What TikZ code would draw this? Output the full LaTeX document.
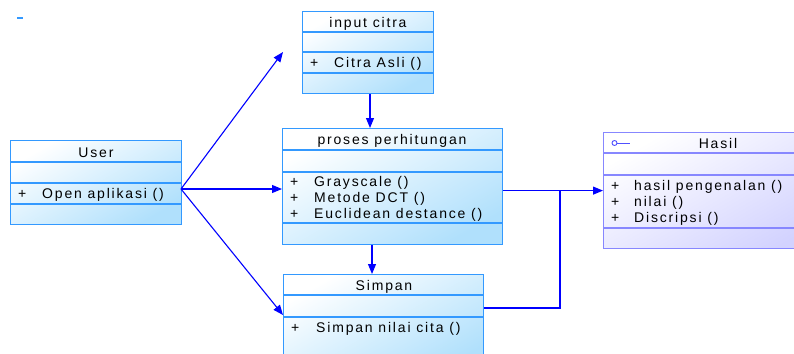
\documentclass[tikz,border=0pt]{standalone}
\usepackage{fontspec}
\setmainfont{Liberation Sans}[LetterSpace=13]
\usetikzlibrary{arrows.meta,calc}
\definecolor{bordblue}{RGB}{51,153,255}
\definecolor{fillblue}{RGB}{176,224,252}
\definecolor{bordlav}{RGB}{135,135,255}
\definecolor{filllav}{RGB}{210,210,255}
\definecolor{arrblue}{RGB}{0,0,255}
\definecolor{symlav}{RGB}{80,80,255}
\begin{document}
\begin{tikzpicture}[x=1pt,y=-1pt,
  every node/.style={font=\fontsize{14}{16}\selectfont, inner sep=0pt, text=black},
  ttl/.style={anchor=mid, yshift=-2.5pt},
  lbl/.style={anchor=mid west, yshift=-2.5pt},
  cls/.style={draw=bordblue, line width=1.2pt, top color=white, bottom color=fillblue, shading angle=30, anchor=north west},
  clsl/.style={draw=bordlav, line width=1.2pt, top color=white, bottom color=filllav, shading angle=30, anchor=north west},
  divb/.style={draw=bordblue, line width=1.2pt},
  divl/.style={draw=bordlav, line width=1.2pt},
  arr/.style={draw=arrblue, line width=1.1pt, -{Triangle[length=10pt,width=8pt]}},
  conn/.style={draw=arrblue, line width=1.1pt}]
\useasboundingbox (0,0) rectangle (794,353);
\clip (0,0) rectangle (794,353);

% small mark
\draw[bordblue, line width=1.5pt] (17,18) -- (23,18);

% User
\node[cls, minimum width=171pt, minimum height=84pt] (user) at (10,140) {};
\draw[divb] ($(user.north west)+(0,22)$) -- ($(user.north east)+(0,22)$);
\draw[divb] ($(user.north west)+(0,43)$) -- ($(user.north east)+(0,43)$);
\draw[divb] ($(user.north west)+(0,64)$) -- ($(user.north east)+(0,64)$);
\node[ttl] (userT) at (96,152) {User};
\node[lbl] (userP) at (18,193) {+};
\node[lbl] (userO) at (42,193) {Open aplikasi ()};

% input citra
\node[cls, minimum width=131pt, minimum height=82pt] (input) at (302,11) {};
\draw[divb] ($(input.north west)+(0,21)$) -- ($(input.north east)+(0,21)$);
\draw[divb] ($(input.north west)+(0,41)$) -- ($(input.north east)+(0,41)$);
\draw[divb] ($(input.north west)+(0,62)$) -- ($(input.north east)+(0,62)$);
\node[ttl] (inputT) at (368,22) {input citra};
\node[lbl] (inputP) at (310,62) {+};
\node[lbl] (inputO) at (334,62) {Citra Asli ()};

% proses perhitungan
\node[cls, minimum width=220pt, minimum height=116pt] (proses) at (282,128) {};
\draw[divb] ($(proses.north west)+(0,22)$) -- ($(proses.north east)+(0,22)$);
\draw[divb] ($(proses.north west)+(0,44)$) -- ($(proses.north east)+(0,44)$);
\draw[divb] ($(proses.north west)+(0,95)$) -- ($(proses.north east)+(0,95)$);
\node[ttl] (prosesT) at (392,139) {proses perhitungan};
\node[lbl] (prosesP1) at (290,181) {+};
\node[lbl] (prosesP2) at (290,197) {+};
\node[lbl] (prosesP3) at (290,213) {+};
\node[lbl] (prosesO1) at (314,181) {Grayscale ()};
\node[lbl] (prosesO2) at (314,197) {Metode DCT ()};
\node[lbl] (prosesO3) at (314,213) {Euclidean destance ()};

% Simpan
\node[cls, minimum width=200pt, minimum height=100pt] (simpan) at (283,274) {};
\draw[divb] ($(simpan.north west)+(0,21)$) -- ($(simpan.north east)+(0,21)$);
\draw[divb] ($(simpan.north west)+(0,43)$) -- ($(simpan.north east)+(0,43)$);
\node[ttl] (simpanT) at (384,285) {Simpan};
\node[lbl] (simpanP) at (291,327) {+};
\node[lbl] (simpanO) at (316,327) {Simpan nilai cita ()};

% Hasil
\node[clsl, minimum width=230pt, minimum height=116pt] (hasil) at (603,132) {};
\draw[divl] ($(hasil.north west)+(0,21)$) -- ($(hasil.north east)+(0,21)$);
\draw[divl] ($(hasil.north west)+(0,43)$) -- ($(hasil.north east)+(0,43)$);
\draw[divl] ($(hasil.north west)+(0,96)$) -- ($(hasil.north east)+(0,96)$);
\draw[symlav, line width=0.9pt] (614.5,143) circle (2.5pt);
\draw[symlav, line width=0.9pt] (617,143) -- (630,143);
\node[ttl] (hasilT) at (718,143) {Hasil};
\node[lbl] (hasilP1) at (611,185) {+};
\node[lbl] (hasilP2) at (611,201) {+};
\node[lbl] (hasilP3) at (611,217) {+};
\node[lbl] (hasilO1) at (634,185) {hasil pengenalan ()};
\node[lbl] (hasilO2) at (634,201) {nilai ()};
\node[lbl] (hasilO3) at (634,217) {Discripsi ()};

% connectors
\coordinate (ufan) at (181,189);
\coordinate (tipin) at (283,52);
\coordinate (tipsim) at ($(simpan.north west)+(0,41)$);
\coordinate (junc) at (560,190);
\draw[arr] (ufan) -- (tipin);
\draw[arr] (ufan) -- (proses.west |- ufan);
\draw[arr] (ufan) -- (tipsim);
\draw[arr] (input.south -| 370,0) -- (proses.north -| 370,0);
\draw[arr] (proses.south -| 372,0) -- (simpan.north -| 372,0);
\draw[arr] (proses.east |- hasil.west) -- (hasil.west);
\draw[conn] ($(simpan.north east)+(0,34)$) -| (junc);
\end{tikzpicture}
\end{document}
